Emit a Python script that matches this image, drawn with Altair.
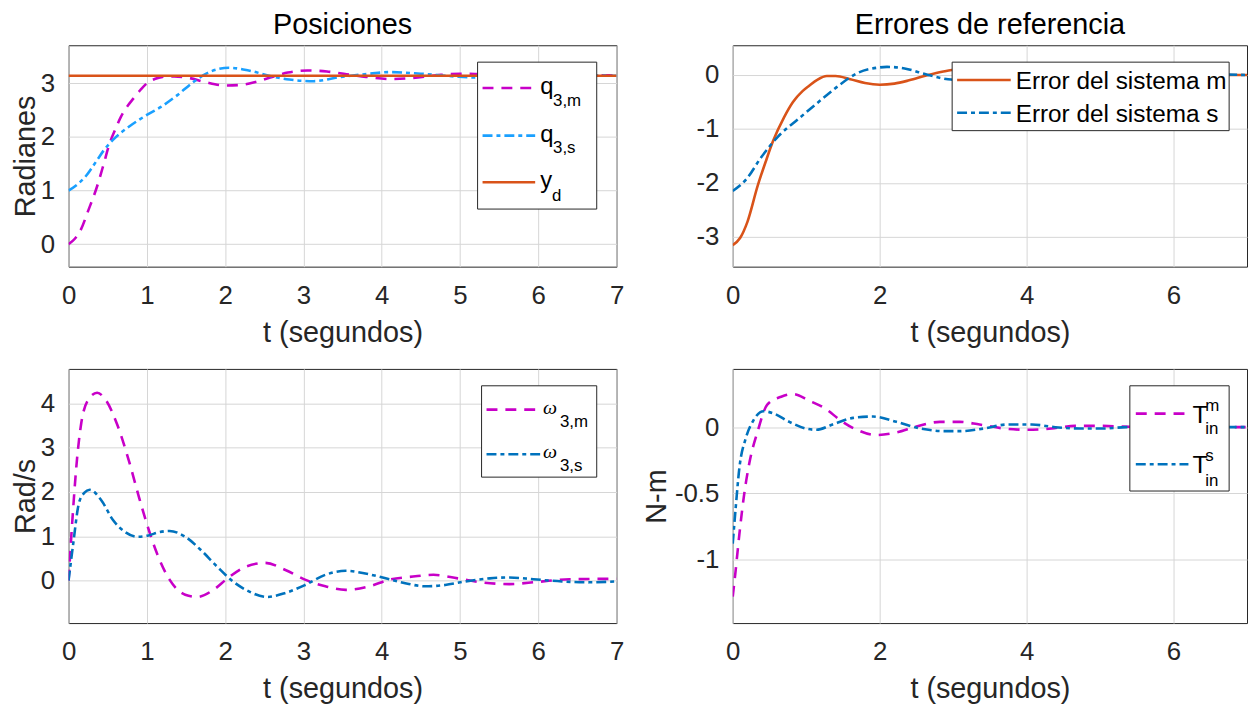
import altair as alt
import pandas as pd

# ---------------- data ----------------
# Posiciones
t_q3m = [0, 0.08, 0.16, 0.25, 0.365, 0.45, 0.52, 0.6, 0.67, 0.75, 0.83, 0.92, 1.0, 1.1, 1.2, 1.35,
         1.54, 1.75, 2.0, 2.2, 2.4, 2.6, 2.8, 3.05, 3.3, 3.55, 3.8, 4.1, 4.4, 4.7, 5.0, 5.3, 5.6,
         6.0, 6.4, 6.8, 7.0]
v_q3m = [0, 0.1, 0.28, 0.62, 1.08, 1.5, 1.86, 2.15, 2.38, 2.57, 2.72, 2.88, 3.0, 3.08, 3.12, 3.13,
         3.1, 3.02, 2.96, 2.97, 3.03, 3.12, 3.2, 3.24, 3.22, 3.17, 3.12, 3.08, 3.1, 3.15, 3.18, 3.17,
         3.14, 3.12, 3.13, 3.15, 3.15]
t_q3s = [0, 0.1, 0.21, 0.365, 0.45, 0.57, 0.77, 1.0, 1.18, 1.39, 1.59, 1.8, 2.05, 2.3, 2.62, 2.82,
         3.13, 3.48, 3.85, 4.1, 4.5, 4.92, 5.2, 5.6, 6.0, 6.5, 7.0]
v_q3s = [1.0, 1.1, 1.25, 1.57, 1.75, 1.95, 2.19, 2.41, 2.56, 2.78, 3.02, 3.21, 3.29, 3.24, 3.12, 3.07,
         3.04, 3.12, 3.18, 3.21, 3.18, 3.13, 3.11, 3.12, 3.15, 3.15, 3.14]
t_yd = [0, 7]
v_yd = [3.1416, 3.1416]

# Errores de referencia
t_em = [0, 0.1, 0.2, 0.34, 0.45, 0.55, 0.7, 0.82, 0.95, 1.04, 1.15, 1.28, 1.4, 1.6, 1.8, 2.0, 2.2,
        2.4, 2.66, 2.85, 3.05, 3.4, 3.7, 4.1, 4.5, 5.0, 5.5, 6.0, 6.5, 7.0]
v_em = [-3.15, -3.02, -2.72, -2.05, -1.6, -1.22, -0.78, -0.5, -0.3, -0.2, -0.09, -0.02, -0.02, -0.08,
        -0.15, -0.18, -0.16, -0.1, 0.0, 0.06, 0.1, 0.08, 0.02, -0.05, -0.03, 0.04, 0.01, -0.01, 0.0, 0.0]
t_es = [0, 0.18, 0.39, 0.61, 0.88, 1.15, 1.42, 1.69, 2.0, 2.1, 2.34, 2.66, 2.93, 3.15, 3.5, 4.1, 4.5,
        5.0, 5.5, 6.0, 6.5, 7.0]
v_es = [-2.15, -1.94, -1.52, -1.15, -0.83, -0.52, -0.22, 0.03, 0.14, 0.15, 0.12, 0.0, -0.08, -0.1,
        -0.04, 0.07, 0.04, -0.01, -0.03, 0.0, 0.01, 0.0]

# Velocidades
t_w3m = [0, 0.05, 0.11, 0.16, 0.24, 0.365, 0.47, 0.62, 0.77, 0.9, 1.0, 1.13, 1.29, 1.49, 1.64, 1.85,
         2.03, 2.26, 2.51, 2.77, 3.02, 3.28, 3.54, 3.84, 4.1, 4.4, 4.66, 4.97, 5.27, 5.63, 5.99, 6.4, 7.0]
v_w3m = [0, 1.4, 2.78, 3.53, 4.05, 4.24, 4.09, 3.53, 2.71, 1.88, 1.28, 0.61, 0.02, -0.32, -0.37, -0.21,
         0.05, 0.31, 0.40, 0.24, 0.02, -0.13, -0.21, -0.13, 0.02, 0.09, 0.13, 0.05, -0.04, -0.08, -0.03,
         0.03, 0.04]
t_w3s = [0, 0.06, 0.13, 0.2, 0.27, 0.42, 0.57, 0.72, 0.88, 1.02, 1.15, 1.29, 1.49, 1.69, 1.9, 2.1,
         2.31, 2.54, 2.77, 3.02, 3.28, 3.54, 3.79, 4.05, 4.3, 4.56, 4.81, 5.07, 5.38, 5.63, 5.94, 6.3,
         6.63, 7.0]
v_w3s = [0, 0.84, 1.73, 1.98, 2.05, 1.81, 1.36, 1.10, 0.99, 1.02, 1.09, 1.12, 0.99, 0.69, 0.31, -0.02,
         -0.25, -0.37, -0.28, -0.10, 0.13, 0.22, 0.16, 0.05, -0.06, -0.13, -0.10, -0.02, 0.05, 0.07,
         0.03, -0.02, -0.04, -0.02]

# Pares de entrada
t_tm = [0, 0.04, 0.09, 0.15, 0.23, 0.34, 0.47, 0.66, 0.82, 1.04, 1.26, 1.47, 1.69, 1.96, 2.23, 2.5,
        2.82, 3.09, 3.36, 3.69, 4.01, 4.34, 4.66, 4.99, 5.3, 5.7, 6.2, 6.7, 7.0]
v_tm = [-1.28, -1.08, -0.81, -0.53, -0.26, -0.03, 0.17, 0.23, 0.25, 0.20, 0.14, 0.05, -0.02, -0.06,
        -0.04, 0.005, 0.04, 0.04, 0.02, -0.01, -0.02, -0.01, 0.01, 0.01, 0.005, 0.0, 0.0, 0.0, 0.0]
t_ts = [0, 0.04, 0.09, 0.18, 0.28, 0.42, 0.55, 0.77, 0.99, 1.14, 1.36, 1.64, 1.91, 2.23, 2.55, 2.88,
        3.09, 3.42, 3.74, 4.07, 4.39, 4.72, 5.04, 5.36, 5.8, 6.3, 7.0]
v_ts = [-0.88, -0.61, -0.31, -0.08, 0.05, 0.12, 0.105, 0.04, -0.01, -0.02, 0.02, 0.07, 0.08, 0.04,
        -0.01, -0.03, -0.03, -0.01, 0.02, 0.02, 0.0, -0.01, -0.01, 0.0, 0.0, 0.0, 0.0]

# ---------------- styling ----------------
FONT = "Liberation Sans"
AX = "#262626"
MAG = "#C800C8"
LBLUE = "#1AA0FF"
ORANGE = "#D95319"
BLUE = "#0072BD"
DASH = [11, 8]
DASHDOT = [10, 4, 4, 4]
LW = 2.6
ONE = pd.DataFrame({"k": [0]})
LABEL_EXPR = "datum.value + ''"


def lines(series, xs, ys, xaxis, yaxis):
    out = []
    for t, v, color, dash in series:
        kw = dict(color=color, strokeWidth=LW, clip=True, interpolate="monotone")
        if dash:
            kw["strokeDash"] = dash
        out.append(
            alt.Chart(pd.DataFrame({"t": t, "v": v})).mark_line(**kw).encode(
                x=alt.X("t:Q", scale=xs, axis=xaxis),
                y=alt.Y("v:Q", scale=ys, axis=yaxis),
            )
        )
    return out


def box(x0, x1, y0, y1):
    return alt.Chart(ONE).mark_rect(fill="white", stroke=AX, strokeWidth=1).encode(
        x=alt.value(x0), x2=alt.value(x1), y=alt.value(y0), y2=alt.value(y1))


def sample(x0, x1, y, color, dash):
    kw = dict(color=color, strokeWidth=LW)
    if dash:
        kw["strokeDash"] = dash
    return alt.Chart(ONE).mark_rule(**kw).encode(
        x=alt.value(x0), x2=alt.value(x1), y=alt.value(y))


def label(x, y, text, size, font=FONT, style="normal"):
    return alt.Chart(ONE).mark_text(align="left", baseline="alphabetic", fontSize=size, font=font,
                                    fontStyle=style, color="black").encode(
        x=alt.value(x), y=alt.value(y), text=alt.value(text))


def title(text):
    return alt.TitleParams(text, fontSize=29, font=FONT, fontWeight="normal", color="black",
                           offset=-18, baseline="alphabetic", anchor="middle")


def xaxis(vals):
    return alt.Axis(values=vals, title="t (segundos)", labelExpr=LABEL_EXPR, labelFont=FONT,
                    labelFontSize=26, labelColor=AX, titleFont=FONT, titleFontSize=29,
                    titleFontWeight="normal", titleColor=AX, ticks=False, tickSize=0,
                    domain=False, grid=True, gridColor="#d6d6d6", gridWidth=1,
                    labelFlush=False, labelOverlap=False, labelPadding=16, titlePadding=10)


def yaxis(vals, ttl, tpad):
    kw = dict(values=vals, labelExpr=LABEL_EXPR, labelFont=FONT,
              labelFontSize=26, labelColor=AX, titleFont=FONT, titleFontSize=29,
              titleFontWeight="normal", titleColor=AX, ticks=False, tickSize=0,
              domain=False, grid=True, gridColor="#d6d6d6", gridWidth=1,
              labelFlush=False, labelOverlap=False, labelPadding=14, titlePadding=tpad)
    kw["title"] = ttl if ttl else ""
    return alt.Axis(**kw)


XS = alt.Scale(domain=[0, 7], nice=False, zero=False)
X_ALL = xaxis(list(range(8)))
X_EVEN = xaxis([0, 2, 4, 6])

W_L, W_R, H_T, H_B = 552, 518, 223, 256

# ---- top left: Posiciones ----
tl_layers = lines(
    [(t_q3m, v_q3m, MAG, DASH), (t_q3s, v_q3s, LBLUE, DASHDOT), (t_yd, v_yd, ORANGE, None)],
    XS, alt.Scale(domain=[-0.42, 3.71], nice=False, zero=False), X_ALL,
    yaxis([0, 1, 2, 3], "Radianes", 0))
tl_legend = [
    box(412, 532, 17, 165),
    sample(417, 470, 43, MAG, DASH), label(475, 49, "q", 24), label(488, 61.5, "3,m", 17),
    sample(417, 470, 91, LBLUE, DASHDOT), label(475, 97, "q", 24), label(488, 109, "3,s", 17),
    sample(417, 470, 138, ORANGE, None), label(475, 144, "y", 24), label(487, 157, "d", 17),
]
tl = alt.layer(*tl_layers, *tl_legend).properties(width=W_L, height=H_T, title=title("Posiciones"))

# ---- top right: Errores de referencia ----
tr_layers = lines(
    [(t_em, v_em, ORANGE, None), (t_es, v_es, BLUE, DASHDOT)],
    XS, alt.Scale(domain=[-3.55, 0.55], nice=False, zero=False), X_EVEN,
    yaxis([-3, -2, -1, 0], None, 3))
tr_legend = [
    box(221, 500, 17, 86),
    sample(226, 280, 35, ORANGE, None), label(285, 44, "Error del sistema m", 24.5),
    sample(226, 280, 68, BLUE, DASHDOT), label(285, 77, "Error del sistema s", 24.5),
]
tr = alt.layer(*tr_layers, *tr_legend).properties(width=W_R, height=H_T,
                                                   title=title("Errores de referencia"))

# ---- bottom left: velocidades ----
bl_layers = lines(
    [(t_w3m, v_w3m, MAG, DASH), (t_w3s, v_w3s, BLUE, DASHDOT)],
    XS, alt.Scale(domain=[-0.96, 4.78], nice=False, zero=False), X_ALL,
    yaxis([0, 1, 2, 3, 4], "Rad/s", 0))
bl_legend = [
    box(416, 532, 17, 109),
    sample(421, 475, 41, MAG, DASH), label(478, 45, "ω", 20, "Liberation Serif", "italic"),
    label(495, 59, "3,m", 17),
    sample(421, 475, 86, BLUE, DASHDOT), label(478, 90, "ω", 20, "Liberation Serif", "italic"),
    label(495, 103, "3,s", 17),
]
bl = alt.layer(*bl_layers, *bl_legend).properties(width=W_L, height=H_B)

# ---- bottom right: pares ----
br_layers = lines(
    [(t_tm, v_tm, MAG, DASH), (t_ts, v_ts, BLUE, DASHDOT)],
    XS, alt.Scale(domain=[-1.48, 0.44], nice=False, zero=False), X_EVEN,
    yaxis([-1, -0.5, 0], "N-m", 3))
br_legend = [
    box(400, 500, 17, 123),
    sample(406, 459, 45, MAG, DASH), label(463, 54, "T", 25),
    label(476, 42, "m", 17), label(476, 66, "in", 17),
    sample(406, 459, 96, BLUE, DASHDOT), label(463, 105, "T", 25),
    label(476, 93, "s", 17), label(476, 118, "in", 17),
]
br = alt.layer(*br_layers, *br_legend).properties(width=W_R, height=H_B)

chart = (
    alt.concat(tl, tr, bl, br, columns=2, spacing={"row": 103, "column": 117}, bounds="flush")
    .properties(padding={"left": 3, "top": 0, "right": 0, "bottom": 0}, background="white")
    .configure_view(stroke=AX, strokeWidth=1)
)

chart.save("out.html", embed_options={"renderer": "svg", "actions": False})
